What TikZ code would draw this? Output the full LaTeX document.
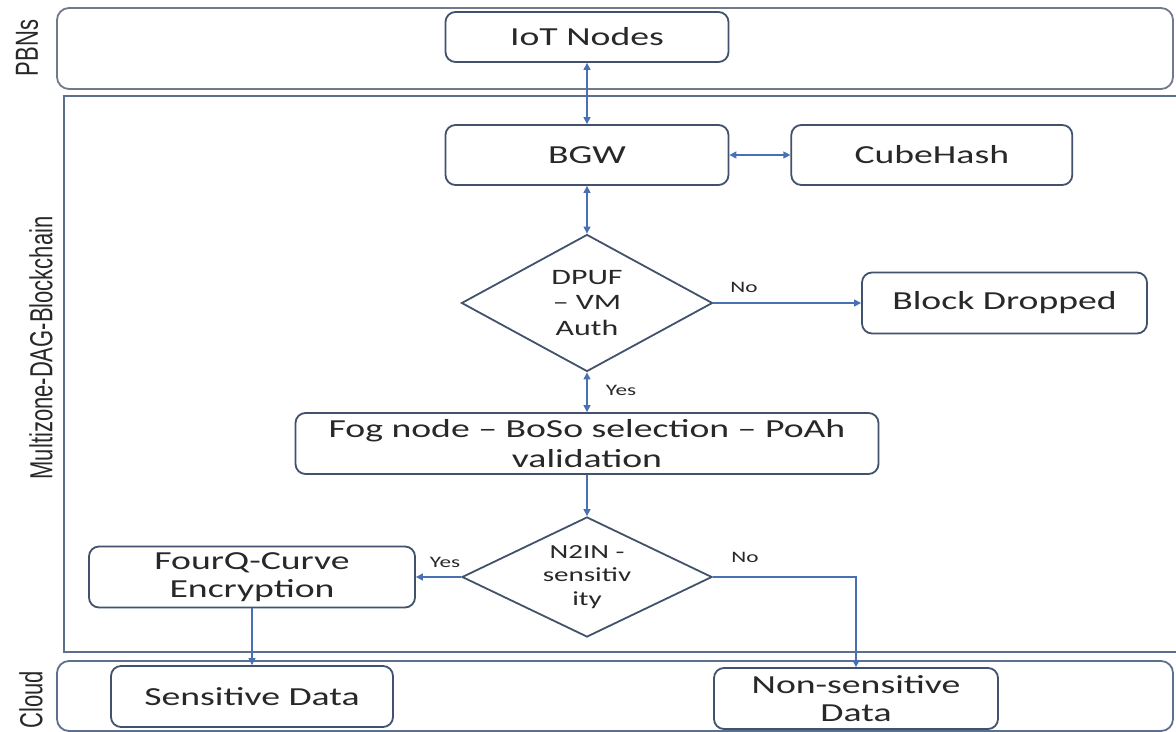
\documentclass[tikz,border=0pt]{standalone}
\usepackage{fontspec}
\setmainfont{Carlito}[FakeStretch=1.45]
\newfontfamily\sidefont{Liberation Sans}
\usetikzlibrary{shapes.geometric, arrows.meta, positioning}
\definecolor{boxline}{RGB}{66,82,108}
\definecolor{flowblue}{RGB}{72,112,180}
\definecolor{bandline}{RGB}{112,122,138}
\definecolor{chainline}{RGB}{92,112,142}
\definecolor{txt}{RGB}{40,40,40}

\begin{document}
\begin{tikzpicture}[
		x=0.5pt, y=-0.5pt,
		procblock/.style={rectangle, rounded corners=5pt, draw=boxline, line width=0.9pt, align=center, text=txt, inner sep=0pt, font=\fontsize{13}{14}\selectfont},
		decision/.style={diamond, draw=boxline, line width=0.9pt, align=center, text=txt, inner sep=0pt, aspect=2},
		band/.style={draw=bandline, line width=0.9pt, rounded corners=6pt},
		side/.style={rotate=90, text=txt, font=\sidefont\fontsize{11}{13}\selectfont},
		lbl/.style={text=txt, font=\fontsize{8}{9}\selectfont},
		arrow/.style={-{Triangle[length=3.5pt,width=3.5pt]}, line width=0.6pt, draw=flowblue},
		biarrow/.style={arrow, {Triangle[length=3.5pt,width=3.5pt]}-{Triangle[length=3.5pt,width=3.5pt]}}
	]
	\useasboundingbox (0,0) rectangle (1176,732);

	\draw[band] (57,8) rectangle (1173,89);
	\draw[band, draw=chainline, sharp corners] (64,96) rectangle (1195,652);
	\draw[band, draw=chainline] (57,661) rectangle (1173,731);

	\node[side] (pbnslbl) at (27,48) {\scalebox{1}[1.45]{PBNs}};
	\node[side] (chainlbl) at (41,348) {\scalebox{1}[1.45]{Multizone-DAG-Blockchain}};
	\node[side] (cloudlbl) at (31,700) {\scalebox{1}[1.45]{Cloud}};

	\node[procblock, minimum width=141.5pt, minimum height=25pt] (iot) at (587,37) {IoT Nodes};
	\node[procblock, minimum width=141.5pt, minimum height=30pt] (bgw) at (587,155) {BGW};
	\node[procblock, minimum width=140.5pt, minimum height=30pt, right=30.5pt of bgw] (cubehash) {CubeHash};
	\node[decision, minimum width=125.5pt, minimum height=68.5pt, aspect=1.83, font=\fontsize{11}{12.75}\selectfont] (dpuf) at (587,303) {DPUF\\-- VM\\Auth};
	\node[procblock, minimum width=142.5pt, minimum height=30.5pt] (drop) at (1004.5,303) {Block Dropped};
	\node[procblock, minimum width=291.5pt, minimum height=30.5pt, font=\fontsize{13}{15}\selectfont] (fog) at (587,443.5) {Fog node -- BoSo selection -- PoAh\\validation};
	\node[decision, minimum width=125pt, minimum height=60pt, aspect=2.08, font=\fontsize{10}{11.75}\selectfont] (n2in) at (587,577) {N2IN -\\sensitiv\\ity};
	\node[procblock, minimum width=163pt, minimum height=30.5pt] (fourq) at (252,577) {FourQ-Curve\\Encryption};
	\node[procblock, minimum width=141pt, minimum height=30.5pt] (sens) at (252,696.5) {Sensitive Data};
	\node[procblock, minimum width=142pt, minimum height=30.5pt] (nonsens) at (856,698.5) {Non-sensitive\\Data};

	\node[lbl] (nodrop) at (744,287) {No};
	\node[lbl] (yesfog) at (621,390) {Yes};
	\node[lbl] (yesenc) at (445,562) {Yes};
	\node[lbl] (noplain) at (745,557) {No};

	\draw[biarrow] (iot) -- (bgw);
	\draw[biarrow] (bgw) -- (cubehash);
	\draw[biarrow] (bgw) -- (dpuf);
	\draw[arrow] (dpuf) -- (drop);
	\draw[biarrow] (dpuf) -- (fog);
	\draw[arrow] (fog) -- (n2in);
	\draw[arrow] (n2in) -- (fourq);
	\draw[arrow] (n2in) -| (nonsens);
	\draw[arrow] (fourq) -- (sens);

\end{tikzpicture}
\end{document}
